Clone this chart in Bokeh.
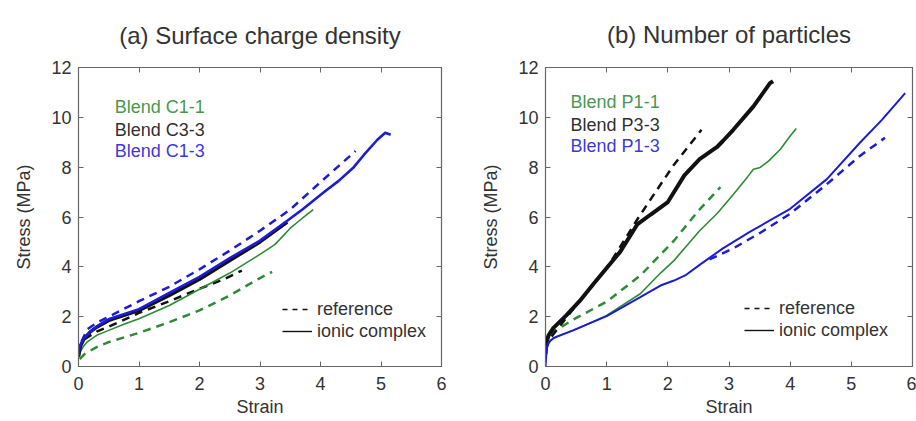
from bokeh.plotting import figure
from bokeh.models import LinearAxis, FixedTicker, Range1d, Label, Legend, LegendItem
from bokeh.layouts import row
from bokeh.embed import file_html
from bokeh.resources import INLINE

# ---------------- data: panel (a) surface charge density ----------------
a_c11_ion_x = [0, 0.03, 0.08, 0.15, 0.3, 0.5, 0.75, 1.0, 1.5, 2.0, 2.5, 3.0, 3.25, 3.5, 3.7, 3.88]
a_c11_ion_y = [0.35, 0.6, 0.8, 1.0, 1.25, 1.45, 1.7, 1.92, 2.45, 3.1, 3.75, 4.5, 4.9, 5.55, 5.95, 6.3]
a_c11_ref_x = [0.02, 0.1, 0.3, 0.5, 1.0, 1.5, 2.0, 2.5, 3.0, 3.2]
a_c11_ref_y = [0.3, 0.5, 0.78, 0.98, 1.35, 1.78, 2.25, 2.85, 3.55, 3.8]
a_c33_ion_x = [0, 0.03, 0.1, 0.2, 0.3, 0.5, 0.75, 1.0, 1.5, 2.0, 2.5, 3.0, 3.45]
a_c33_ion_y = [0.4, 0.8, 1.15, 1.4, 1.58, 1.85, 2.05, 2.25, 2.85, 3.5, 4.25, 5.0, 5.8]
a_c33_ref_x = [0.1, 0.3, 0.5, 1.0, 1.5, 2.0, 2.4, 2.7]
a_c33_ref_y = [1.1, 1.4, 1.6, 2.15, 2.62, 3.12, 3.5, 3.85]
a_c13_ion_x = [0, 0.02, 0.08, 0.2, 0.3, 0.52, 1.0, 1.5, 2.0, 2.5, 3.0, 3.45, 3.7, 4.06, 4.3, 4.55, 4.72, 4.94, 5.07, 5.16]
a_c13_ion_y = [0.4, 0.8, 1.1, 1.4, 1.6, 1.92, 2.3, 2.95, 3.6, 4.35, 5.05, 5.85, 6.3, 7.0, 7.45, 8.0, 8.5, 9.1, 9.38, 9.3]
a_c13_ref_x = [0.05, 0.15, 0.3, 0.5, 1.0, 1.5, 2.0, 2.5, 3.0, 3.5, 4.0, 4.58]
a_c13_ref_y = [1.0, 1.5, 1.75, 2.0, 2.62, 3.2, 3.9, 4.65, 5.45, 6.3, 7.4, 8.65]

# ---------------- data: panel (b) number of particles ----------------
b_p11_ion_x = [0, 0.03, 0.08, 0.2, 0.46, 1.0, 1.55, 1.88, 2.1, 2.52, 2.81, 3.07, 3.3, 3.4, 3.51, 3.65, 3.84, 4.0, 4.1]
b_p11_ion_y = [0.5, 0.8, 1.05, 1.2, 1.45, 2.05, 2.92, 3.75, 4.25, 5.45, 6.15, 6.9, 7.6, 7.92, 7.99, 8.25, 8.72, 9.25, 9.55]
b_p11_ref_x = [0.07, 0.2, 0.45, 1.0, 1.55, 2.1, 2.5, 2.86]
b_p11_ref_y = [1.3, 1.5, 1.88, 2.6, 3.65, 5.05, 6.25, 7.2]
b_p33_ion_x = [0, 0.02, 0.05, 0.13, 0.34, 0.56, 0.78, 1.0, 1.22, 1.5, 1.72, 2.0, 2.27, 2.52, 2.8, 2.9, 3.07, 3.4, 3.67, 3.72]
b_p33_ion_y = [0.5, 1.0, 1.25, 1.55, 2.05, 2.63, 3.3, 3.95, 4.6, 5.7, 6.1, 6.6, 7.67, 8.32, 8.8, 9.05, 9.5, 10.44, 11.37, 11.45]
b_p33_ref_x = [0.1, 0.5, 1.0, 1.17, 1.5, 1.77, 2.1, 2.55]
b_p33_ref_y = [1.2, 2.45, 3.95, 4.6, 5.9, 6.9, 8.1, 9.5]
b_p13_ion_x = [0, 0.02, 0.05, 0.13, 0.45, 1.0, 1.55, 1.88, 2.1, 2.3, 2.52, 2.9, 3.34, 4.0, 4.6, 5.14, 5.5, 5.88]
b_p13_ion_y = [0, 0.75, 0.95, 1.15, 1.45, 2.02, 2.78, 3.25, 3.45, 3.68, 4.08, 4.74, 5.4, 6.33, 7.52, 8.98, 9.9, 10.97]
b_p13_ref_x = [2.68, 3.07, 3.5, 4.0, 4.6, 5.14, 5.55]
b_p13_ref_y = [4.3, 4.74, 5.35, 6.13, 7.32, 8.45, 9.18]

x_ticks = [0, 1, 2, 3, 4, 5, 6]
y_ticks = [0, 2, 4, 6, 8, 10, 12]
titles = ["(a) Surface charge density", "(b) Number of particles"]
blend_a = ["Blend C1-1", "Blend C3-3", "Blend C1-3"]
blend_b = ["Blend P1-1", "Blend P3-3", "Blend P1-3"]
legend_labels = ["reference", "ionic complex"]

FONT = "Liberation Sans"
GREEN = "#2f8a35"
BLACK = "#111111"
BLUE = "#1c1cd6"
AXIS = "#666666"
TXT = "#333333"
DASH = "8 6"
NAN = float("nan")


def make_fig(title, width, left, right, top, title_standoff):
    p = figure(width=width, height=421, x_range=Range1d(0, 6), y_range=Range1d(0, 12),
               output_backend="svg", toolbar_location=None,
               min_border_left=left, min_border_right=right,
               min_border_top=top, min_border_bottom=55)
    p.grid.visible = False
    p.outline_line_color = AXIS
    p.outline_line_width = 1.2
    p.background_fill_color = "white"
    p.border_fill_color = "white"

    for ax, ticks in ((p.xaxis[0], x_ticks), (p.yaxis[0], y_ticks)):
        ax.ticker = FixedTicker(ticks=ticks)
        ax.major_tick_in = 5
        ax.major_tick_out = 0
        ax.minor_tick_line_color = None
        ax.axis_line_color = AXIS
        ax.major_tick_line_color = AXIS
        ax.major_label_text_font = FONT
        ax.major_label_text_font_size = "18px"
        ax.major_label_text_color = TXT
        ax.axis_label_text_font = FONT
        ax.axis_label_text_font_size = "18px"
        ax.axis_label_text_font_style = "normal"
        ax.axis_label_text_color = TXT
    p.xaxis.axis_label = "Strain"
    p.yaxis.axis_label = "Stress (MPa)"
    p.xaxis.major_label_standoff = 10
    p.xaxis.axis_label_standoff = 4
    p.yaxis.major_label_standoff = 7
    p.yaxis.axis_label_standoff = 14

    for loc, ticks in (("above", x_ticks), ("right", y_ticks)):
        ax = LinearAxis(ticker=FixedTicker(ticks=ticks), major_label_text_font_size="1px",
                        major_label_text_color=None, major_label_standoff=0,
                        major_tick_in=5, major_tick_out=0,
                        minor_tick_line_color=None, axis_line_color=AXIS,
                        major_tick_line_color=AXIS)
        if loc == "above":
            # the panel title sits on the top frame axis
            ax.axis_label = title
            ax.axis_label_text_font = FONT
            ax.axis_label_text_font_size = "24px"
            ax.axis_label_text_font_style = "normal"
            ax.axis_label_text_color = TXT
            ax.axis_label_standoff = title_standoff
        p.add_layout(ax, loc)
    return p


def add_blend_labels(p, labels, x, ys):
    for lab, yy, col in zip(labels, ys, (GREEN, BLACK, BLUE)):
        p.add_layout(Label(x=x, y=yy, text=lab, text_font=FONT, text_font_size="18px",
                           text_color=col, text_baseline="middle", text_alpha=0.9))


def add_style_legend(p, loc):
    r_ref = p.line(x=[NAN], y=[NAN], line_color=BLACK, line_dash="5 5", line_width=1.4)
    r_ion = p.line(x=[NAN], y=[NAN], line_color=BLACK, line_width=1.4)
    leg = Legend(items=[LegendItem(label=legend_labels[0], renderers=[r_ref]),
                        LegendItem(label=legend_labels[1], renderers=[r_ion])],
                 location=loc, border_line_color=None, background_fill_alpha=0,
                 label_text_font=FONT, label_text_font_size="18px", label_text_color=TXT,
                 glyph_width=30, label_standoff=5, spacing=0, padding=0, margin=0,
                 label_height=22, glyph_height=22)
    p.add_layout(leg, "center")


# ---------------- panel (a) ----------------
pa = make_fig(titles[0], 456, 78, 15, 67, 19)
pa.line(a_c11_ref_x, a_c11_ref_y, line_color=GREEN, line_dash=DASH, line_width=2.5)
pa.line(a_c33_ref_x, a_c33_ref_y, line_color=BLACK, line_dash=DASH, line_width=2.5)
pa.line(a_c13_ref_x, a_c13_ref_y, line_color=BLUE, line_dash=DASH, line_width=2.5)
pa.line(a_c11_ion_x, a_c11_ion_y, line_color=GREEN, line_width=1.6)
pa.line(a_c33_ion_x, a_c33_ion_y, line_color=BLACK, line_width=3.5)
pa.line(a_c13_ion_x, a_c13_ion_y, line_color=BLUE, line_width=2.6)
add_blend_labels(pa, blend_a, 0.6, [10.4, 9.5, 8.65])
add_style_legend(pa, (204, 24))

# ---------------- panel (b) ----------------
pb = make_fig(titles[1], 460, 89, 4, 64, 20)
pb.line(b_p11_ref_x, b_p11_ref_y, line_color=GREEN, line_dash=DASH, line_width=2.5)
pb.line(b_p33_ref_x, b_p33_ref_y, line_color=BLACK, line_dash=DASH, line_width=2.5)
pb.line(b_p13_ref_x, b_p13_ref_y, line_color=BLUE, line_dash=DASH, line_width=2.5)
pb.line(b_p11_ion_x, b_p11_ion_y, line_color=GREEN, line_width=1.6)
pb.line(b_p33_ion_x, b_p33_ion_y, line_color=BLACK, line_width=4)
pb.line(b_p13_ion_x, b_p13_ion_y, line_color=BLUE, line_width=2)
add_blend_labels(pb, blend_b, 0.41, [10.6, 9.71, 8.85])
add_style_legend(pb, (199, 25))

layout = row(pa, pb)
open("out.html", "w").write(file_html(layout, INLINE))
